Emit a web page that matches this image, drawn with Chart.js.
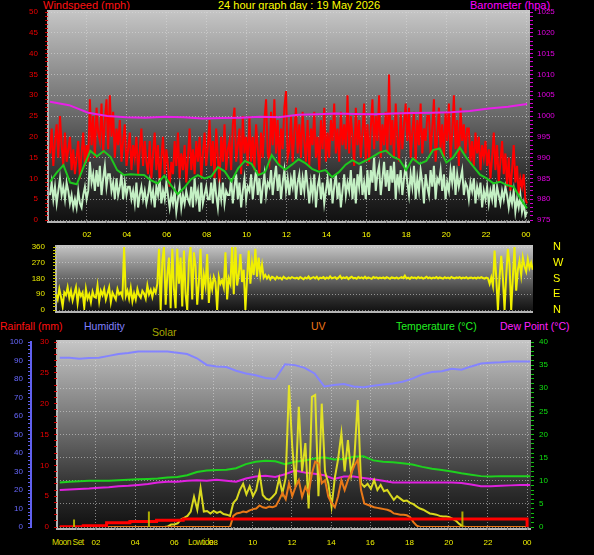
<!DOCTYPE html>
<html>
<head>
<meta charset="utf-8">
<script src="https://cdn.jsdelivr.net/npm/chart.js@4.4.1/dist/chart.umd.min.js"></script>
<style>
  html, body { margin: 0; padding: 0; background: #000; }
  body { width: 594px; height: 555px; position: relative; overflow: hidden; font-family: "Liberation Sans", Arial, sans-serif; }
  canvas { position: absolute; left: 0; }
  .t { position: absolute; font-size: 11px; line-height: 11px; white-space: nowrap; }
  .t2 { position: absolute; font-size: 10.5px; line-height: 11px; white-space: nowrap; }
  .ev { position: absolute; font-size: 8.5px; line-height: 9px; letter-spacing: -0.6px; white-space: nowrap; color: #dada00; }
</style>
</head>
<body>
<div class="t" style="left:43px;top:0;color:#ff1010">Windspeed (mph)</div>
<div class="t" style="left:218px;top:0;color:#ffff00">24 hour graph day : 19 May 2026</div>
<div class="t" style="left:470px;top:0;color:#ff00ff">Barometer (hpa)</div>

<div class="t2" style="left:0;top:321px;color:#ff1010">Rainfall (mm)</div>
<div class="t2" style="left:84px;top:321px;color:#8080ff">Humidity</div>
<div class="t2" style="left:152px;top:327px;color:#a8a800">Solar</div>
<div class="t2" style="left:311px;top:321px;color:#f07818">UV</div>
<div class="t2" style="left:396px;top:321px;color:#20f020">Temperature (°C)</div>
<div class="t2" style="left:500px;top:321px;color:#ff20ff">Dew Point (°C)</div>

<div class="ev" style="left:52px;top:538px">Moon Set</div>
<div class="ev" style="left:188px;top:538px">Lowtide</div>

<canvas id="windChart" width="594" height="245" style="top:0"></canvas>
<canvas id="dirChart" width="594" height="80" style="top:238px"></canvas>
<canvas id="weatherChart" width="594" height="225" style="top:330px"></canvas>

<script>
// ---- wind / barometer (5 minute readings, 00:09 to 24:03), one row per hour ----
const gust = [
  16, 22, 13, 19, 23, 15, 25, 18, 13, 21, 14, 17,
  20, 12, 17, 11, 15, 19, 10, 16, 21, 13, 18, 14,
  29, 18, 25, 15, 27, 21, 19, 28, 16, 24, 29, 17,
  30, 20, 26, 15, 22, 18, 24, 14, 19, 23, 13, 17,
  21, 12, 18, 15, 20, 11, 17, 22, 13, 19, 14, 11,
  19, 10, 16, 21, 12, 18, 9, 15, 20, 11, 17, 13,
  8, 14, 11, 19, 13, 21, 10, 16, 12, 18, 9, 15,
  22, 12, 17, 11, 19, 14, 20, 10, 16, 21, 13, 18,
  24, 13, 19, 10, 22, 15, 9, 20, 14, 23, 12, 17,
  19, 12, 23, 27, 14, 18, 22, 11, 25, 16, 20, 13,
  25, 14, 20, 12, 23, 17, 11, 21, 15, 24, 29, 16,
  14, 26, 18, 29, 16, 24, 13, 22, 17, 27, 31, 15,
  17, 25, 14, 21, 27, 16, 23, 15, 26, 19, 14, 24,
  13, 22, 18, 26, 15, 20, 12, 24, 17, 27, 14, 21,
  15, 24, 19, 28, 16, 22, 14, 26, 18, 23, 17, 30,
  16, 25, 20, 13, 27, 18, 24, 15, 21, 28, 14, 23,
  14, 22, 29, 17, 25, 19, 30, 15, 23, 18, 26, 16,
  35, 18, 24, 15, 28, 20, 14, 26, 17, 23, 28, 19,
  27, 15, 21, 26, 14, 24, 18, 28, 16, 22, 19, 25,
  25, 16, 22, 29, 14, 20, 27, 17, 23, 15, 26, 19,
  28, 15, 21, 30, 17, 24, 13, 27, 19, 23, 16, 22,
  22, 14, 19, 13, 21, 16, 20, 12, 18, 15, 19, 13,
  17, 10, 15, 21, 12, 18, 9, 14, 19, 11, 16, 8,
  15, 7, 12, 18, 9, 13, 6, 10, 8, 11, 5, 4
];
const windAvg = [
  6, 9, 5, 8, 4, 7, 10, 6, 8, 5, 9, 7,
  4, 6, 3, 5, 3, 7, 4, 3, 6, 8, 5, 7,
  14, 9, 11, 7, 12, 8, 13, 6, 10, 13, 8, 11,
  11, 7, 9, 5, 10, 6, 8, 11, 5, 9, 6, 8,
  8, 5, 7, 4, 9, 3, 6, 8, 5, 7, 4, 6,
  9, 5, 7, 3, 8, 6, 10, 4, 7, 5, 9, 6,
  3, 6, 4, 7, 2, 5, 8, 3, 6, 4, 7, 5,
  4, 8, 3, 10, 5, 7, 2, 9, 4, 6, 8, 5,
  5, 9, 4, 10, 6, 3, 8, 5, 9, 4, 7, 6,
  6, 10, 4, 8, 11, 5, 9, 3, 7, 10, 5, 8,
  7, 11, 5, 9, 12, 6, 10, 4, 8, 11, 6, 9,
  8, 12, 6, 10, 13, 7, 11, 5, 9, 12, 7, 10,
  6, 10, 8, 12, 5, 9, 11, 6, 10, 7, 12, 8,
  4, 9, 6, 11, 3, 8, 10, 5, 9, 4, 7, 10,
  6, 10, 4, 8, 11, 5, 9, 3, 7, 11, 6, 9,
  7, 12, 5, 10, 4, 11, 8, 13, 6, 9, 5, 12,
  6, 12, 9, 15, 7, 11, 13, 6, 10, 14, 8, 12,
  7, 13, 9, 14, 5, 11, 8, 12, 6, 10, 13, 9,
  6, 11, 8, 13, 5, 10, 7, 12, 9, 4, 11, 8,
  6, 12, 8, 13, 5, 10, 9, 12, 7, 11, 5, 9,
  7, 12, 9, 13, 6, 11, 8, 10, 12, 6, 9, 8,
  5, 9, 7, 10, 4, 8, 6, 9, 3, 7, 5, 8,
  4, 7, 5, 9, 3, 8, 6, 4, 7, 5, 8, 6,
  3, 6, 4, 7, 2, 5, 3, 6, 2, 4, 1, 2
];
// 20 minute average wind
const windSmooth = [
  9.2, 11.4, 13.2, 9.0, 8.6, 12.8, 16.6, 15.3, 16.6, 15.2, 12.0, 10.8,
  11.0, 10.9, 10.8, 9.6, 8.8, 10.6, 8.4, 6.2, 7.8, 9.8, 10.8, 10.0,
  10.5, 12.7, 11.7, 9.3, 12.4, 14.2, 13.5, 10.8, 11.5, 15.6, 13.4, 12.1,
  13.3, 14.6, 13.7, 12.3, 11.6, 12.0, 10.3, 11.5, 13.3, 14.4, 13.5, 14.3,
  15.2, 16.2, 16.7, 15.2, 14.5, 12.0, 14.8, 13.5, 14.2, 16.8, 17.2, 13.8,
  15.0, 17.4, 14.9, 12.9, 10.9, 10.0, 8.8, 9.2, 8.4, 8.0, 5.2, 2.8
];
const baro = [
  1003.4, 1002.6, 1000.8, 1000.0, 999.7, 999.6, 999.8, 999.7, 999.4, 999.5,
  999.6, 999.8, 999.7, 1000.3, 1000.4, 1000.6, 1000.5, 1000.4, 1000.6, 1000.7,
  1000.8, 1000.9, 1001.2, 1001.8, 1002.2, 1002.9
];

// ---- wind direction (degrees, 5 minute readings from 00:27) ----
const windDir = [
  90, 60, 120, 75, 20, 100, 85, 130, 70, 110, 55, 95,
  130, 40, 110, 80, 100, 15, 120, 65, 90, 45, 105, 75,
  70, 140, 50, 110, 85, 120, 60, 95, 130, 45, 100, 80,
  60, 120, 90, 100, 75, 360, 80, 110, 65, 125, 50, 95,
  60, 120, 85, 70, 110, 95, 65, 140, 90, 115, 75, 120,
  100, 150, 350, 0, 280, 360, 30, 200, 300, 10, 350, 120,
  10, 350, 150, 300, 20, 340, 90, 0, 280, 360, 60, 330,
  250, 30, 160, 350, 60, 200, 140, 320, 40, 170, 120, 190,
  160, 0, 190, 150, 170, 130, 330, 60, 180, 150, 360, 90,
  360, 140, 200, 320, 160, 230, 0, 180, 340, 150, 270, 200,
  350, 190, 300, 200, 260, 185, 200, 180, 195, 175, 190, 185,
  175, 190, 180, 185, 175, 190, 182, 178, 186, 180, 188, 184,
  180, 185, 178, 188, 182, 176, 186, 180, 192, 178, 184, 188,
  180, 190, 176, 185, 182, 188, 178, 186, 180, 192, 181, 184,
  188, 178, 185, 195, 180, 186, 182, 188, 177, 185, 190, 181,
  184, 179, 188, 182, 186, 180, 190, 180, 186, 182, 178, 188,
  183, 187, 180, 185, 182, 186, 180, 188, 183, 178, 186, 184,
  181, 186, 179, 184, 188, 182, 196, 180, 185, 178, 187, 183,
  185, 180, 188, 182, 186, 179, 184, 190, 181, 186, 180, 185,
  182, 188, 180, 186, 183, 179, 187, 182, 185, 180, 189, 184,
  181, 186, 183, 188, 180, 185, 182, 187, 179, 184, 186, 181,
  185, 180, 186, 182, 188, 183, 179, 185, 181, 150, 186, 140,
  340, 185, 0, 190, 310, 180, 0, 200, 350, 260, 0, 190,
  360, 110, 230, 280, 200, 300, 250, 220, 290, 240, 270, 230
];
const compass = { 0: 'N', 90: 'E', 180: 'S', 270: 'W', 360: 'N' };

// ---- bottom panel (30 minute readings) ----
const humidity = [
  91.5, 91.5, 91.0, 91.3, 91.5, 92.5, 93.5, 94.0, 94.8, 94.8, 94.8, 94.8, 94.2,
  93.5, 91.2, 87.6, 86.8, 86.5, 84.5, 83.0, 82.0, 80.5, 80.0, 88.0, 87.5, 86.0,
  83.0, 76.0, 76.8, 77.3, 76.0, 75.5, 76.3, 77.0, 77.6, 78.5, 80.2, 82.5, 83.8,
  84.2, 85.5, 85.0, 86.8, 88.4, 88.8, 89.0, 89.4, 89.4, 89.4
];
const temperature = [
  9.6, 9.8, 9.9, 10.0, 10.0, 10.0, 10.1, 10.2, 10.3, 10.4, 10.5, 10.7, 10.8,
  11.2, 11.9, 12.2, 12.3, 12.4, 12.7, 13.6, 14.1, 14.3, 14.2, 13.6, 14.1, 14.4,
  14.8, 15.1, 14.6, 14.7, 15.2, 15.3, 14.4, 14.1, 14.0, 13.8, 13.5, 13.0, 12.6,
  12.3, 12.0, 11.6, 11.3, 11.0, 10.9, 11.0, 11.0, 11.0, 11.0
];
const dewPoint = [
  8.0, 8.1, 8.2, 8.3, 8.5, 8.6, 8.8, 8.9, 9.1, 9.3, 9.6, 9.8, 9.8,
  10.0, 10.1, 10.0, 10.2, 10.0, 9.8, 10.5, 10.9, 11.1, 10.8, 11.4, 12.2, 11.8,
  11.5, 11.2, 10.4, 10.9, 10.9, 10.6, 10.3, 10.0, 9.6, 9.6, 9.6, 9.6, 9.6,
  9.6, 9.6, 9.5, 9.2, 8.8, 8.8, 8.9, 9.0, 9.1, 9.1
];
// rainfall total (mm), changes at these hours
const rainHours = [0.15, 1.35, 2.54, 3.73, 5.09, 6.45, 24.0, 24.0];
const rainTotal = [0.05, 0.2, 0.7, 0.9, 1.1, 1.3, 1.3, 0];
// solar (W/m2) and UV index, 10 minute readings
const solar = [
  0, 0, 0, 0, 0, 0, 0, 0, 0, 0, 0, 0, 0, 0, 0, 0, 0, 0, 0, 0, 0, 0, 0, 0, 0, 0, 0, 0, 0, 0, 0, 0, 0,
  4, 16, 16, 24, 48, 60, 72, 100, 196, 112,
  252, 100, 104, 88, 104, 92, 100, 84, 80, 72,
  156, 180, 240, 280, 212, 264, 200, 240, 348, 208,
  184, 176, 196, 220, 316, 220, 320, 920, 520, 260,
  780, 360, 544, 120, 844, 856, 200, 800, 360, 284,
  132, 320, 440, 608, 360, 564, 340, 460, 824, 284,
  260, 280, 248, 304, 240, 272, 232, 240, 208, 176,
  200, 184, 168, 172, 156, 148, 132, 120, 112, 100,
  88, 84, 80, 72, 68, 68, 64, 52, 40, 20,
  4,
  0, 0, 0, 0, 0, 0, 0, 0, 0, 0, 0, 0, 0, 0, 0, 0, 0, 0, 0, 0
];
const uvIndex = [
  0, 0, 0, 0, 0, 0, 0, 0, 0, 0, 0, 0, 0, 0, 0, 0, 0, 0, 0, 0, 0, 0, 0, 0, 0, 0, 0,
  0, 0, 0, 0, 0, 0, 0, 0, 0, 0, 0, 0, 0, 0, 0, 0, 0, 0, 0, 0, 0, 0, 0, 0, 0, 0,
  0.9, 1.1, 1.15, 1.25, 1.2, 1.35, 1.45, 1.5, 1.75, 1.6,
  1.55, 1.65, 1.6, 1.7, 2.2, 2.75, 2.25, 3.55, 2.5, 3.25,
  3.8, 2.45, 3.25, 2.75, 4.35, 5.3, 5.15, 3.55, 3.8, 2.45,
  1.95, 1.6, 2.5, 3.8, 3.0, 3.8, 4.35, 5.0, 5.45, 3.0,
  1.9, 1.8, 1.7, 1.6, 1.55, 1.5, 1.45, 1.4, 1.3, 1.1,
  1.05, 1.0, 1.0, 0.95, 0.8, 0.4, 0.1,
  0, 0, 0, 0, 0, 0, 0, 0, 0, 0, 0, 0, 0, 0, 0, 0, 0,
  0, 0, 0, 0, 0, 0, 0, 0, 0, 0, 0, 0, 0, 0, 0, 0, 0
];
// moon set / sun markers drawn as short bars (hour, mm)
const eventHours = [0.88, 4.7, 20.7];
const eventHeights = [1.2, 2.5, 2.5];

const FONT = { family: '"Liberation Sans", Arial, sans-serif', size: 8 };
const GRID = 'rgba(220,220,220,0.55)';

// spread readings evenly from first to last reading time
function series(values, t0, t1) {
  const step = (t1 - t0) / (values.length - 1);
  return values.map((v, i) => ({ x: t0 + i * step, y: v }));
}
const hourLabel = v => (v % 2 === 0 ? String(v % 24).padStart(2, '0') : '');
const every = n => v => (v % n === 0 ? v : '');
const gridEvery = n => c => (c.tick && c.tick.value % n === 0 ? GRID : 'transparent');
// fixed axis sizes, so the plot areas line up with the picture
const fixWidth = w => s => { s.width = w; s.paddingTop = 0; s.paddingBottom = 0; };
const fixHeight = h => s => { s.height = h; s.paddingLeft = 0; s.paddingRight = 0; };

// gradient behind the plot area
const plotBackground = {
  id: 'plotBackground',
  beforeDraw(chart, args, opts) {
    const { ctx, chartArea: a } = chart;
    const pad = opts.pad || 0;
    const top = a.top - pad, bottom = a.bottom + pad;
    const g = ctx.createLinearGradient(0, top, 0, bottom);
    g.addColorStop(0, '#c6c6c6');
    g.addColorStop(0.5, '#686868');
    g.addColorStop(0.8, '#2c2c2c');
    g.addColorStop(1, '#101010');
    ctx.save();
    ctx.fillStyle = g;
    ctx.fillRect(a.left, top, a.right - a.left, bottom - top);
    ctx.strokeStyle = '#b4b4b4';
    ctx.lineWidth = 2;
    ctx.beginPath();
    ctx.moveTo(a.left, top);
    ctx.lineTo(a.left, bottom);
    ctx.lineTo(a.right, bottom);
    ctx.stroke();
    ctx.restore();
  }
};

function line(label, data, color, axis, width) {
  return { label, data, borderColor: color, yAxisID: axis, borderWidth: width || 2,
           pointRadius: 0, tension: 0, fill: false };
}

const baseOptions = (padding) => ({
  responsive: false,
  animation: false,
  layout: { padding },
  plugins: { legend: { display: false }, tooltip: { enabled: false }, plotBackground: { pad: 2 } }
});

// Chart 1: windspeed and barometer
new Chart(document.getElementById('windChart'), {
  type: 'line',
  data: {
    datasets: [
      line('Barometer', series(baro, 0.15, 24.05), '#e820e8', 'baro'),
      line('Wind (avg)', series(windSmooth, 0.15, 24.05), '#1ec81e', 'y'),
      line('Wind', series(windAvg, 0.15, 24.05), '#c4f0c4', 'y'),
      line('Gust', series(gust, 0.15, 24.05), '#ff0000', 'y')
    ]
  },
  options: {
    ...baseOptions({ top: 12 }),
    scales: {
      x: {
        type: 'linear', min: 0.05, max: 24.2,
        afterFit: fixHeight(25),
        ticks: { stepSize: 1, includeBounds: false, autoSkip: false, maxRotation: 0,
                 color: '#ffff00', font: FONT, padding: 7, callback: hourLabel },
        grid: { color: gridEvery(2), tickColor: '#777', tickLength: 3 },
        border: { display: false, dash: [1, 2] }
      },
      y: {
        position: 'left', min: 0, max: 50,
        afterFit: fixWidth(48),
        ticks: { stepSize: 1, autoSkip: false, color: '#ee0000', font: FONT, padding: 7, callback: every(5) },
        grid: { color: gridEvery(5), tickColor: '#d00000', tickLength: 3 },
        border: { display: false, dash: [1, 2] }
      },
      baro: {
        position: 'right', min: 975, max: 1025,
        afterFit: fixWidth(64),
        ticks: { stepSize: 1, autoSkip: false, color: '#e000e0', font: FONT, padding: 4, callback: every(5) },
        grid: { drawOnChartArea: false, tickColor: '#d000d0', tickLength: 3 },
        border: { display: false }
      }
    }
  },
  plugins: [plotBackground]
});

// Chart 2: wind direction
new Chart(document.getElementById('dirChart'), {
  type: 'line',
  data: { datasets: [line('Direction', series(windDir, 0.45, 24.35), '#f0f000', 'y')] },
  options: {
    ...baseOptions({ top: 9, bottom: 8 }),
    scales: {
      x: { type: 'linear', display: false, min: 0.45, max: 24.36 },
      y: {
        position: 'left', min: 0, max: 360,
        afterFit: fixWidth(56),
        ticks: { stepSize: 18, autoSkip: false, color: '#e8e800', font: FONT, padding: 8, callback: every(90) },
        grid: { color: gridEvery(90), tickColor: '#c8c800', tickLength: 3 },
        border: { display: false, dash: [1, 2] }
      },
      compass: {
        position: 'right', min: 0, max: 360,
        afterFit: fixWidth(61),
        ticks: { stepSize: 90, autoSkip: false, color: '#ffff00', padding: 20,
                 font: { family: FONT.family, size: 11 }, callback: v => compass[v] },
        grid: { drawOnChartArea: false, drawTicks: false },
        border: { display: false }
      }
    }
  },
  plugins: [plotBackground]
});

// Chart 3: rain, humidity, solar, UV, temperature, dew point
const rainData = rainHours.map((h, i) => ({ x: h, y: rainTotal[i] }));
const eventData = [];
eventHours.forEach((h, i) => {
  eventData.push({ x: h, y: 0 }, { x: h, y: eventHeights[i] }, { x: h, y: null });
});

new Chart(document.getElementById('weatherChart'), {
  type: 'line',
  data: {
    datasets: [
      line('Events', eventData, 'rgba(190,190,0,0.9)', 'rain'),
      { ...line('Rainfall', rainData, '#ff0000', 'rain', 3), stepped: 'before' },
      line('UV', series(uvIndex, 0.15, 24.05), '#e87818', 'uv'),
      line('Solar', series(solar, 0.15, 24.05), 'rgba(236,236,30,0.9)', 'solar'),
      line('Humidity', series(humidity, 0.15, 24.15), '#8484ff', 'hum'),
      line('Temperature', series(temperature, 0.15, 24.15), '#1ed21e', 'temp'),
      line('Dew Point', series(dewPoint, 0.15, 24.15), '#e020e0', 'temp')
    ]
  },
  options: {
    ...baseOptions({ top: 12 }),
    spanGaps: false,
    scales: {
      x: {
        type: 'linear', min: 0.01, max: 24.2,
        afterFit: fixHeight(28),
        ticks: { stepSize: 1, includeBounds: false, autoSkip: false, maxRotation: 0,
                 color: '#f0f000', font: FONT, padding: 8, callback: hourLabel },
        grid: { color: gridEvery(2), tickColor: '#777', tickLength: 3 },
        border: { display: false, dash: [1, 2] }
      },
      hum: {
        position: 'left', weight: 2, min: 0, max: 100,
        afterFit: fixWidth(31),
        ticks: { stepSize: 2, autoSkip: false, color: '#6868ff', font: FONT, padding: 5, callback: every(10) },
        grid: { drawOnChartArea: false, tickColor: '#6060f0', tickLength: 3 },
        border: { display: true, color: '#6060f0', width: 2 }
      },
      rain: {
        position: 'left', weight: 1, min: 0, max: 30,
        afterFit: fixWidth(26),
        ticks: { stepSize: 1, autoSkip: false, color: '#ee0000', font: FONT, padding: 5, callback: every(5) },
        grid: { drawOnChartArea: false, tickColor: '#d00000', tickLength: 3 },
        border: { display: false }
      },
      temp: {
        position: 'right', min: 0, max: 40,
        afterFit: fixWidth(63),
        ticks: { stepSize: 1, autoSkip: false, color: '#10e010', font: FONT, padding: 5, callback: every(5) },
        grid: { color: gridEvery(5), tickColor: '#10c010', tickLength: 3 },
        border: { display: false, dash: [1, 2] }
      },
      solar: { display: false, min: 0, max: 1200 },
      uv: { display: false, min: 0, max: 15 }
    }
  },
  plugins: [plotBackground]
});
</script>
</body>
</html>
